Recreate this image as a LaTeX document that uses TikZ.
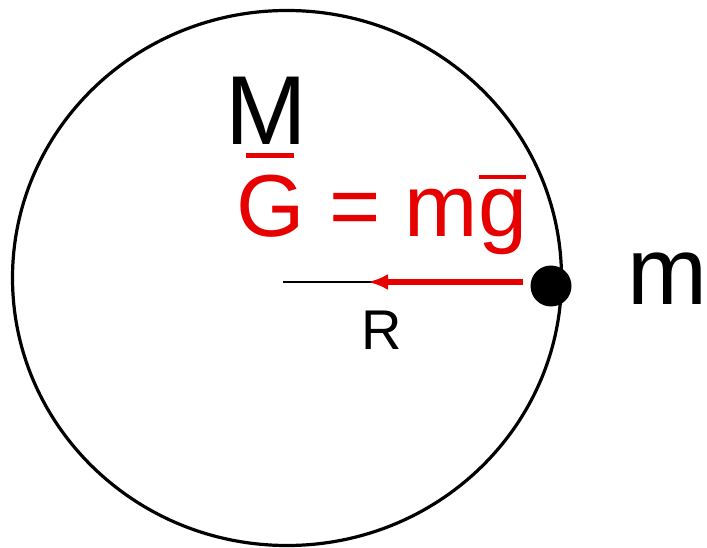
\documentclass[tikz,border=0pt]{standalone}
\usepackage{fontspec}
\setmainfont{Liberation Sans}
\usetikzlibrary{arrows.meta,calc}
\newcommand\barover[3]{\setbox0\hbox{#1}\rlap{\hbox to \wd0{\hfil\rule[#2]{#3\wd0}{0.05em}\hfil}}\box0\relax}
\tikzset{
  lbl/.style={inner sep=0pt, anchor=base west},
}
\definecolor{redc}{RGB}{230,0,0}
\begin{document}
\begin{tikzpicture}[x=1pt,y=-1pt]
\useasboundingbox (0,0) rectangle (707,548);
\draw[line width=3.2pt] (287,278) ellipse [x radius=274.5, y radius=267.5];
\node[lbl] (M) at (225,145) {\fontsize{98}{100}\selectfont M};
\node[lbl, text=redc] (eq) at (236,237) {\fontsize{88}{92}\selectfont \barover{G}{0.9em}{0.7} = m\barover{g}{0.66em}{0.95}};
\coordinate (O) at (283,282);
\coordinate (tip) at (368,282);
\coordinate (tail) at (523,282);
\coordinate (mid) at (388,282);
\node[circle, fill=black, minimum size=41pt, inner sep=0pt] (dot) at (551,286) {};
\draw[line width=1.8pt] (O) -- (mid);
\draw[redc, line width=6pt, -{Latex[length=20pt,width=16pt]}] (tail) -- (tip);
\node[lbl] (R) at (361,349) {\fontsize{56}{58}\selectfont R};
\node[lbl] (m) at (627,305) {\fontsize{96}{100}\selectfont m};
\end{tikzpicture}
\end{document}
